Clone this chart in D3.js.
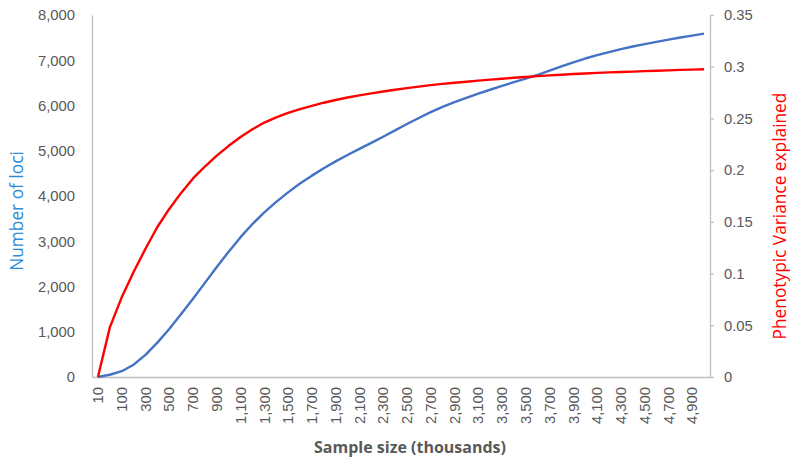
<!DOCTYPE html>
<html>
<head>
<meta charset="utf-8">
<script src="https://cdn.jsdelivr.net/npm/d3@7"></script>
<style>
  body { margin: 0; background: #fff; }
  svg { display: block; font-family: "Open Sans", sans-serif; }
  .axis text { fill: #595959; font-size: 14.8px; }
  .axis path, .axis line { stroke: #bfbfbf; stroke-width: 1.3; }
</style>
</head>
<body>
<svg width="800" height="464"></svg>
<script>
// sample size categories (thousands)
const sampleSizes = [10, 50, 100, 200, 300, 400, 500, 600, 700, 800, 900, 1000,
  1100, 1200, 1300, 1400, 1500, 1600, 1700, 1800, 1900, 2000, 2100, 2200, 2300,
  2400, 2500, 2600, 2700, 2800, 2900, 3000, 3100, 3200, 3300, 3400, 3500, 3600,
  3700, 3800, 3900, 4000, 4100, 4200, 4300, 4400, 4500, 4600, 4700, 4800, 4900, 5000];

// number of loci (left axis)
const lociCounts = [0, 50, 128, 272, 490, 760, 1060, 1390, 1730, 2080, 2430, 2770,
  3090, 3380, 3640, 3870, 4080, 4275, 4450, 4615, 4765, 4905, 5040, 5175, 5310,
  5450, 5590, 5725, 5855, 5970, 6075, 6170, 6260, 6348, 6433, 6515, 6595, 6677,
  6770, 6865, 6955, 7038, 7112, 7180, 7245, 7303, 7355, 7405, 7455, 7502, 7545, 7588];

// phenotypic variance explained (right axis)
const varExplained = [0, 0.048, 0.077, 0.1015, 0.124, 0.145, 0.1625, 0.178, 0.192,
  0.2035, 0.214, 0.2235, 0.232, 0.2395, 0.246, 0.251, 0.2553, 0.259, 0.2622, 0.2652,
  0.2678, 0.2702, 0.2723, 0.2742, 0.276, 0.2777, 0.2793, 0.2808, 0.2822, 0.2834,
  0.2845, 0.2855, 0.2865, 0.2875, 0.2884, 0.2893, 0.2901, 0.2909, 0.2916, 0.2923,
  0.2929, 0.2935, 0.294, 0.2945, 0.2949, 0.2953, 0.2957, 0.2961, 0.2965, 0.2969,
  0.2972, 0.2975];

const leftTicks = [0, 1000, 2000, 3000, 4000, 5000, 6000, 7000, 8000];
const rightTicks = [0, 0.05, 0.1, 0.15, 0.2, 0.25, 0.3, 0.35];

const margin = {top: 15, right: 90, bottom: 87, left: 92};
const width = 800 - margin.left - margin.right;
const height = 464 - margin.top - margin.bottom;

const svg = d3.select("svg");
const g = svg.append("g")
  .attr("transform", "translate(" + margin.left + "," + margin.top + ")");

let x = d3.scaleBand().domain(sampleSizes).range([0, width]).padding(0);
let yL = d3.scaleLinear().domain([0, 8000]).range([height, 0]);
let yR = d3.scaleLinear().domain([0, 0.35]).range([height, 0]);
const cx = d => x(d) + x.bandwidth() / 2;

// bottom axis, every other category labelled
let xAxis = g.append("g")
  .attr("class", "axis")
  .attr("transform", "translate(0," + height + ")")
  .call(d3.axisBottom(x)
    .tickValues(sampleSizes.filter((d, i) => i % 2 === 0))
    .tickSize(0)
    .tickFormat(d3.format(",")));
xAxis.selectAll("text")
  .attr("transform", "rotate(-90)")
  .attr("text-anchor", "end")
  .attr("x", -10)
  .attr("y", 0)
  .attr("dy", "0.35em");

g.append("g")
  .attr("class", "axis")
  .call(d3.axisLeft(yL).tickValues(leftTicks).tickSize(0).tickPadding(17)
    .tickFormat(d3.format(",")));

g.append("g")
  .attr("class", "axis")
  .attr("transform", "translate(" + width + ",0)")
  .call(d3.axisRight(yR).tickValues(rightTicks).tickSize(4).tickSizeOuter(0).tickPadding(10)
    .tickFormat(d => d === 0 ? "0" : String(+d.toFixed(2))));

// lines
let lociLine = d3.line()
  .x((d, i) => cx(sampleSizes[i]))
  .y(d => yL(d));
let varLine = d3.line()
  .x((d, i) => cx(sampleSizes[i]))
  .y(d => yR(d));

g.append("path")
  .datum(lociCounts)
  .attr("d", lociLine)
  .attr("fill", "none")
  .attr("stroke", "#4472c4")
  .attr("stroke-width", 2.4)
  .attr("stroke-linejoin", "round");

g.append("path")
  .datum(varExplained)
  .attr("d", varLine)
  .attr("fill", "none")
  .attr("stroke", "#ff0000")
  .attr("stroke-width", 2.4)
  .attr("stroke-linejoin", "round");

// axis titles
svg.append("text")
  .attr("x", 410)
  .attr("y", 453)
  .attr("text-anchor", "middle")
  .attr("font-size", 16)
  .attr("font-weight", "bold")
  .attr("fill", "#595959")
  .text("Sample size (thousands)");

svg.append("text")
  .attr("transform", "translate(23," + (margin.top + height / 2 + 15) + ") rotate(-90)")
  .attr("text-anchor", "middle")
  .attr("font-size", 17.3)
  .attr("fill", "#2e8bd8")
  .text("Number of loci");

svg.append("text")
  .attr("transform", "translate(786," + (margin.top + height / 2 + 20) + ") rotate(-90)")
  .attr("text-anchor", "middle")
  .attr("font-size", 17.3)
  .attr("fill", "#ff0000")
  .text("Phenotypic Variance explained");
</script>
</body>
</html>
